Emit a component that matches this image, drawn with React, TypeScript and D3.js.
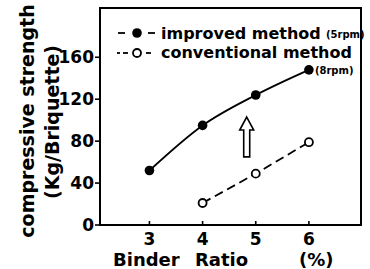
import * as d3 from 'd3';

// data
const improvedX = [3, 4, 5, 6];
const improvedY = [52, 95, 124, 148];
const conventionalX = [4, 5, 6];
const conventionalY = [21, 49, 79];
const xTicks = [3, 4, 5, 6];
const yTicks = [0, 40, 80, 120, 160];

const W = 370,
	H = 269;
const margin = { top: 8, right: 9, bottom: 44, left: 100 };
const font = 'DejaVu Sans, sans-serif';

const App = () => {
	const x = d3.scaleLinear().domain([2.07, 6.98]).range([margin.left, W - margin.right]);
	const y = d3.scaleLinear().domain([0, 207]).range([H - margin.bottom, margin.top]);

	const imp = improvedX.map((d, i) => [d, improvedY[i]] as [number, number]);
	const conv = conventionalX.map((d, i) => [d, conventionalY[i]] as [number, number]);

	const curve = d3
		.line<[number, number]>()
		.curve(d3.curveMonotoneX)
		.x((d) => x(d[0]))
		.y((d) => y(d[1]));
	const straight = d3
		.line<[number, number]>()
		.x((d) => x(d[0]))
		.y((d) => y(d[1]));

	const x0 = margin.left,
		x1 = W - margin.right,
		y0 = H - margin.bottom,
		y1 = margin.top;

	// hollow arrow, placed in data units
	const ax = x(4.83),
		aTop = y(103),
		aBot = y(65),
		headH = 13,
		headW = 7,
		shaftW = 3;
	const arrow = [
		[ax, aTop],
		[ax + headW, aTop + headH],
		[ax + shaftW, aTop + headH],
		[ax + shaftW, aBot],
		[ax - shaftW, aBot],
		[ax - shaftW, aTop + headH],
		[ax - headW, aTop + headH],
	]
		.map((p) => p.join(','))
		.join(' ');

	const last = imp[imp.length - 1];

	return (
		<svg width={W} height={H} style={{ position: 'absolute', left: 0, top: 0, background: '#fff' }}>
			<rect x={x0} y={y1} width={x1 - x0} height={y0 - y1} fill='none' stroke='#000' strokeWidth={2} />
			{yTicks.map((t) => (
				<g key={'y' + t}>
					<line x1={x0 - 5} x2={x0} y1={y(t)} y2={y(t)} stroke='#000' strokeWidth={1.6} />
					<text x={x0 - 6} y={y(t)} dy='0.36em' textAnchor='end' fontFamily={font} fontSize={17} fontWeight='bold'>
						{t}
					</text>
				</g>
			))}
			{xTicks.map((t) => (
				<g key={'x' + t}>
					<line x1={x(t)} x2={x(t)} y1={y0} y2={y0 - 4} stroke='#000' strokeWidth={1.6} />
					<text x={x(t)} y={y0 + 20} textAnchor='middle' fontFamily={font} fontSize={17} fontWeight='bold'>
						{t}
					</text>
				</g>
			))}
			<g fontFamily={font} fontSize={18} fontWeight='bold'>
				<text x={113} y={266}>Binder</text>
				<text x={195} y={266}>Ratio</text>
				<text x={299} y={266}>(%)</text>
			</g>
			<text
				transform={`translate(34, 121) rotate(-90)`}
				textAnchor='middle'
				fontFamily={font}
				fontSize={19}
				fontWeight='bold'
			>
				compressive strength
			</text>
			<text
				transform={`translate(59, 122) rotate(-90)`}
				textAnchor='middle'
				fontFamily={font}
				fontSize={19}
				fontWeight='bold'
			>
				(Kg/Briquette)
			</text>

			<path d={curve(imp) ?? ''} fill='none' stroke='#000' strokeWidth={1.8} />
			<path d={straight(conv) ?? ''} fill='none' stroke='#000' strokeWidth={1.8} strokeDasharray='9,5' />
			{imp.map((d, i) => (
				<circle key={'i' + i} cx={x(d[0])} cy={y(d[1])} r={4.8} fill='#000' />
			))}
			{conv.map((d, i) => (
				<circle key={'c' + i} cx={x(d[0])} cy={y(d[1])} r={4} fill='#fff' stroke='#000' strokeWidth={1.8} />
			))}
			<text x={x(last[0]) + 6} y={y(last[1]) + 4} fontFamily={font} fontSize={10} fontWeight='bold'>
				(8rpm)
			</text>
			<polygon points={arrow} fill='#fff' stroke='#000' strokeWidth={1.6} />

			{/* legend */}
			<line x1={118} x2={125} y1={33} y2={33} stroke='#000' strokeWidth={1.8} />
			<line x1={148} x2={155} y1={33} y2={33} stroke='#000' strokeWidth={1.8} />
			<circle cx={137} cy={33} r={4.8} fill='#000' />
			<text x={161} y={39} fontFamily={font} fontSize={16} fontWeight='bold'>
				improved method
			</text>
			<text x={326} y={38} fontFamily={font} fontSize={10} fontWeight='bold'>
				(5rpm)
			</text>
			<line x1={117} x2={120} y1={53} y2={53} stroke='#000' strokeWidth={1.8} />
			<line x1={123} x2={128} y1={53} y2={53} stroke='#000' strokeWidth={1.8} />
			<line x1={146} x2={151} y1={53} y2={53} stroke='#000' strokeWidth={1.8} />
			<circle cx={137} cy={53} r={4} fill='#fff' stroke='#000' strokeWidth={1.8} />
			<text x={161} y={58} fontFamily={font} fontSize={16} fontWeight='bold'>
				conventional method
			</text>
		</svg>
	);
};

export default App;
